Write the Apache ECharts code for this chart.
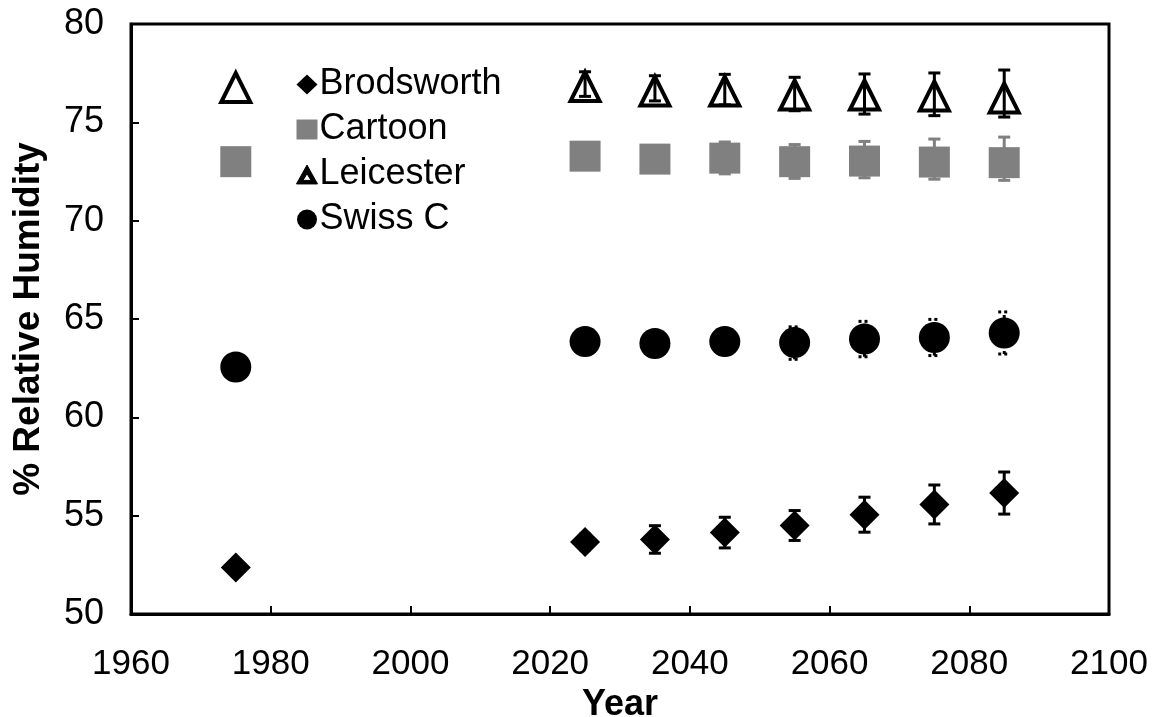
<!DOCTYPE html>
<html>
<head>
<meta charset="utf-8">
<script src="https://cdn.jsdelivr.net/npm/echarts@6/dist/echarts.min.js"></script>
<style>
html,body{margin:0;padding:0;background:#fff;}
#chart{width:1170px;height:717px;}
</style>
</head>
<body>
<div id="chart"></div>
<script>
var years = [1975, 2025, 2035, 2045, 2055, 2065, 2075, 2085];

var brodsworth = [52.36, 53.66, 53.79, 54.14, 54.50, 55.05, 55.57, 56.15];
var brodErrPlus = [0, 0.40, 0.70, 0.78, 0.76, 0.89, 0.99, 1.07];
var brodErrMinus = [0, 0.40, 0.70, 0.78, 0.76, 0.89, 0.99, 1.07];

var cartoon = [73.00, 73.28, 73.13, 73.18, 73.00, 73.03, 72.98, 72.95];
var cartoonErrPlus = [0, 0.50, 0.60, 0.82, 0.87, 1.00, 1.17, 1.30];
var cartoonErrMinus = [0, 0.50, 0.60, 0.80, 0.85, 0.85, 0.87, 0.90];

var leicester = [76.77, 76.82, 76.59, 76.59, 76.39, 76.39, 76.34, 76.24];
var leicErrPlus = [0, 0.75, 0.78, 0.85, 0.90, 1.07, 1.17, 1.42];
var leicErrMinus = [0, 0.50, 0.50, 0.70, 0.80, 0.97, 1.00, 0.97];

var swiss = [62.56, 63.85, 63.75, 63.85, 63.80, 63.98, 64.06, 64.29];
var swissErrPlus = [0, 0.50, 0.50, 0.60, 0.80, 0.90, 0.92, 1.07];
var swissErrMinus = [0, 0.50, 0.50, 0.60, 0.85, 0.90, 0.92, 1.07];

var xTicks = [1960, 1980, 2000, 2020, 2040, 2060, 2080, 2100];
var yTicks = [50, 55, 60, 65, 70, 75, 80];

var FONT = "'Liberation Sans', Arial, sans-serif";
var HOLLOW_TRIANGLE = 'path://M10,0 L20,18 L0,18 Z M10,8.2 L6.1,14.6 L13.9,14.6 Z';

function pts(vals) {
  return years.map(function (y, i) { return [y, vals[i]]; });
}
function errData(vals, plus, minus) {
  var out = [];
  years.forEach(function (y, i) {
    if (plus[i] > 0 || minus[i] > 0) out.push([y, vals[i] - minus[i], vals[i] + plus[i]]);
  });
  return out;
}
function errSeries(name, vals, plus, minus, color, dash) {
  return {
    type: 'custom',
    name: name,
    z: 5,
    silent: true,
    data: errData(vals, plus, minus),
    encode: { x: 0, y: [1, 2] },
    renderItem: function (params, api) {
      var x = api.value(0);
      var lo = api.coord([x, api.value(1)]);
      var hi = api.coord([x, api.value(2)]);
      var hw = 6;
      var style = { stroke: color, lineWidth: 3, fill: null };
      if (dash) style.lineDash = [3, 3];
      return {
        type: 'group',
        children: [
          { type: 'line', shape: { x1: lo[0], y1: lo[1], x2: hi[0], y2: hi[1] }, style: style },
          { type: 'line', shape: { x1: hi[0] - hw, y1: hi[1], x2: hi[0] + hw, y2: hi[1] }, style: style },
          { type: 'line', shape: { x1: lo[0] - hw, y1: lo[1], x2: lo[0] + hw, y2: lo[1] }, style: style }
        ]
      };
    }
  };
}

var chart = echarts.init(document.getElementById('chart'), null, { renderer: 'canvas' });
var option = {
  backgroundColor: '#fff',
  animation: false,
  textStyle: { fontFamily: FONT },
  grid: {
    left: 131, top: 24, right: 61, bottom: 103,
    containLabel: false, outerBoundsMode: 'none',
    show: true, borderColor: '#000', borderWidth: 3, backgroundColor: 'transparent'
  },
  legend: {
    data: [
      { name: 'Brodsworth' },
      { name: 'Cartoon' },
      { name: 'Leicester', icon: HOLLOW_TRIANGLE,
        itemStyle: { color: '#000', borderColor: '#000', borderWidth: 1 } },
      { name: 'Swiss C' }
    ],
    orient: 'vertical',
    left: 291, top: 61,
    itemWidth: 21, itemHeight: 20, itemGap: 8,
    textStyle: { fontFamily: FONT, fontSize: 36, color: '#000', lineHeight: 37, padding: [0, 0, 0, -3] }
  },
  xAxis: {
    type: 'value', min: 1960, max: 2100, interval: 20,
    name: 'Year', nameLocation: 'middle', nameGap: 70,
    nameTextStyle: { fontFamily: FONT, fontSize: 36, fontWeight: 'bold', color: '#000' },
    axisLine: { show: true, lineStyle: { color: '#000', width: 3 } },
    axisTick: { show: true, inside: true, length: 8, lineStyle: { color: '#000', width: 2 } },
    axisLabel: {
      fontFamily: FONT, fontSize: 35, color: '#000', margin: 33,
      formatter: function (v) { return String(v); }
    },
    splitLine: { show: false }
  },
  yAxis: {
    type: 'value', min: 50, max: 80, interval: 5,
    name: '% Relative Humidity', nameLocation: 'middle', nameGap: 84,
    nameTextStyle: { fontFamily: FONT, fontSize: 37, fontWeight: 'bold', color: '#000' },
    axisLine: { show: true, lineStyle: { color: '#000', width: 3 } },
    axisTick: { show: true, inside: true, length: 8, lineStyle: { color: '#000', width: 2 } },
    axisLabel: {
      fontFamily: FONT, fontSize: 36, color: '#000', margin: 27,
      formatter: function (v) { return String(v); }
    },
    splitLine: { show: false }
  },
  series: [
    {
      type: 'scatter', name: 'Brodsworth', symbol: 'diamond', symbolSize: 30,
      itemStyle: { color: '#000', opacity: 1 }, data: pts(brodsworth), z: 2
    },
    {
      type: 'scatter', name: 'Cartoon', symbol: 'rect', symbolSize: 31,
      itemStyle: { color: '#808080', opacity: 1 }, data: pts(cartoon), z: 2
    },
    {
      type: 'scatter', name: 'Leicester', symbol: 'triangle', symbolSize: [29, 29],
      itemStyle: { color: '#fff', borderColor: '#000', borderWidth: 4, opacity: 1 },
      data: pts(leicester), z: 2
    },
    {
      type: 'scatter', name: 'Swiss C', symbol: 'circle', symbolSize: 31,
      itemStyle: { color: '#000', opacity: 1 }, data: pts(swiss), z: 2
    },
    errSeries('errBrod', brodsworth, brodErrPlus, brodErrMinus, '#000', false),
    errSeries('errCartoon', cartoon, cartoonErrPlus, cartoonErrMinus, '#808080', false),
    errSeries('errLeic', leicester, leicErrPlus, leicErrMinus, '#000', false),
    errSeries('errSwiss', swiss, swissErrPlus, swissErrMinus, '#000', true)
  ]
};
chart.setOption(option);
</script>
</body>
</html>
